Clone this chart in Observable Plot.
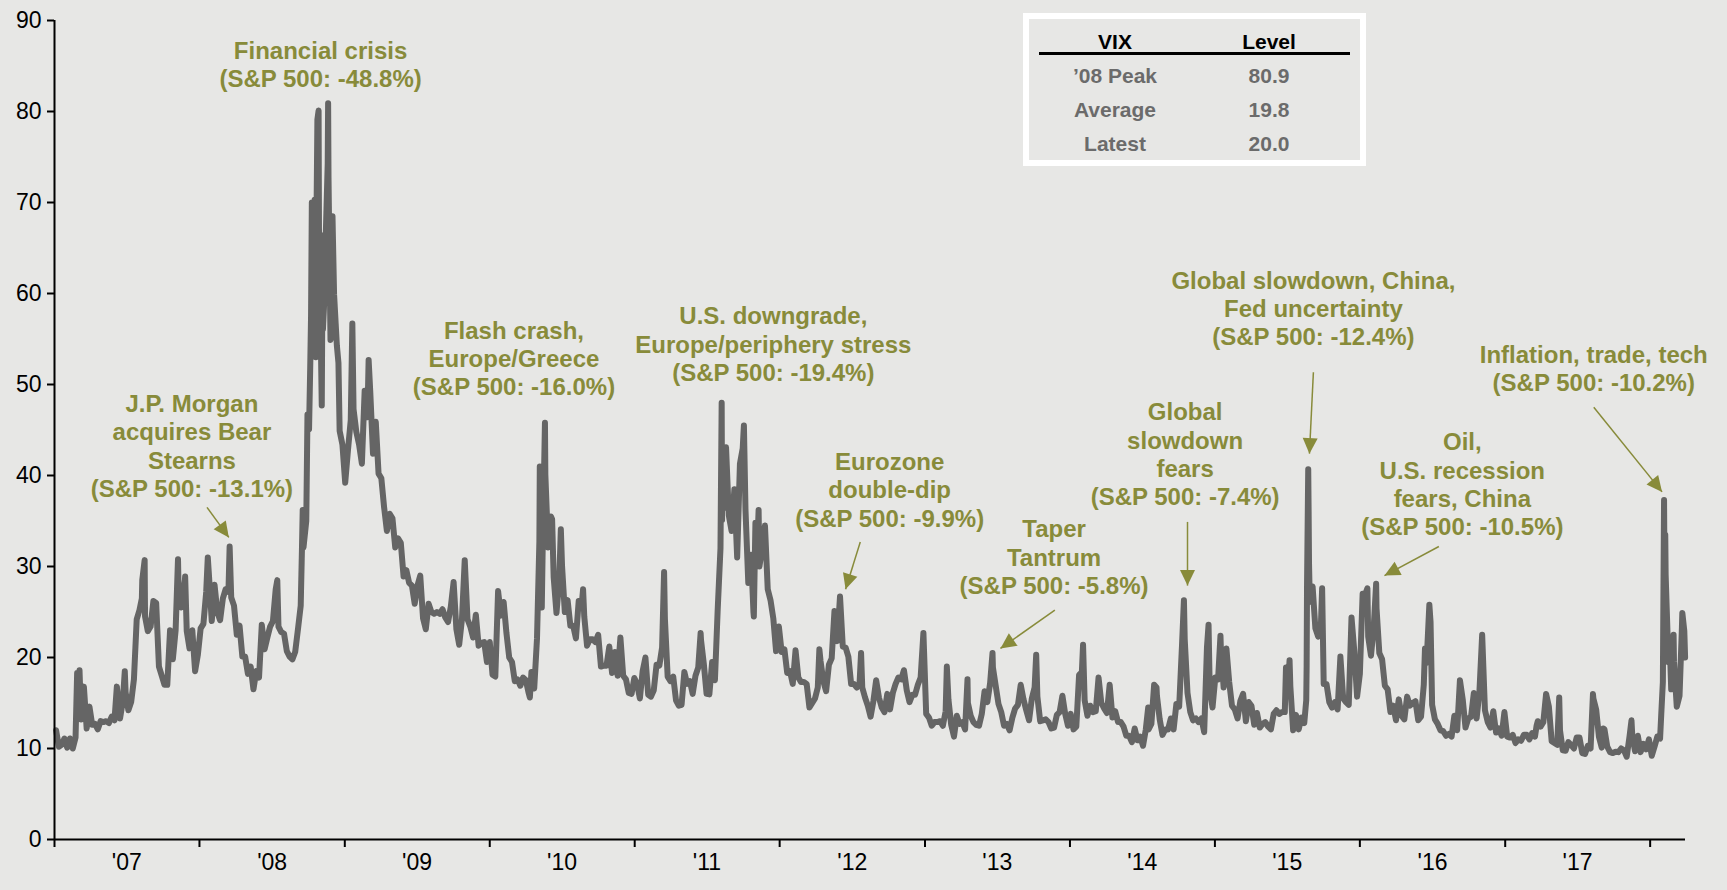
<!DOCTYPE html>
<html>
<head>
<meta charset="utf-8">
<script src="https://cdn.jsdelivr.net/npm/d3@7"></script>
<script src="https://cdn.jsdelivr.net/npm/@observablehq/plot@0.6"></script>
<style>
  html, body { margin: 0; padding: 0; background: #e7e7e5; }
  #wrap { position: relative; width: 1727px; height: 890px; overflow: hidden;
          font-family: "Liberation Sans", Arial, Helvetica, sans-serif; }
  #wrap svg { position: absolute; left: 0; top: 0; }
  #vixTable { position: absolute; left: 1023px; top: 13px; width: 343px; height: 153px;
              box-sizing: border-box; border: 6px solid #ffffff; background: #e7e7e5; }
  .cell { position: absolute; width: 150px; text-align: center; font-weight: bold;
          font-size: 21px; line-height: 24px; }
  .rule { position: absolute; left: 10px; width: 311px; top: 33px; height: 2.5px; background: #000; }
</style>
</head>
<body>
<div id="wrap"><div id="vixTable"></div></div>
<script>
// ---------------- DATA ----------------
// Weekly (Friday) VIX levels, one array per year
const vix2007 = [12.0, 10.2, 10.4, 11.1,  10.1, 11.1, 10.0, 11.2,  14.6, 13.2, 16.8, 12.2, 14.6,
  12.6, 12.7, 12.1, 13.0,  12.9, 13.0, 12.8, 13.5,  13.1, 16.4, 13.3, 15.2, 16.2,
  14.2, 15.1, 17.6, 24.2,  25.2, 28.5, 24.5, 22.9, 23.4,  26.2, 26.0, 19.0, 18.0,
  17.0, 17.0, 23.0, 19.8,  23.0, 28.5, 25.5, 26.8, 22.9,  21.0, 23.0, 18.5, 20.3];
const vix2008 = [23.2, 23.7, 27.2, 29.0,  24.0, 28.0, 25.0, 24.1, 26.5,  27.5, 27.2, 26.6, 25.7,
  22.5, 23.5, 20.1, 20.1,  18.2, 19.0, 16.5, 18.5, 17.8,  23.6, 20.9, 22.2, 23.4,
  24.0, 27.5, 23.4, 22.8,  22.6, 20.7, 20.1, 19.8, 20.6,  23.1, 25.7, 32.1, 35.0,
  45.1, 70.0, 70.3, 79.1, 59.9,  56.1, 66.3, 72.7, 55.3,  59.9, 54.3, 44.9, 43.4];
const vix2009 = [39.2, 42.8, 46.1, 47.3, 44.8,  43.4, 41.3, 49.3, 46.4,  49.3, 42.4, 45.9, 40.2,
  39.7, 36.5, 33.9, 35.8,  35.3, 32.1, 33.1, 32.6, 28.9,  29.6, 28.2, 27.9, 25.9,
  27.9, 29.0, 24.3, 23.1, 25.9,  25.0, 24.8, 25.0, 24.8,  25.3, 24.4, 23.9, 25.6,
  28.3, 23.1, 21.4, 24.2, 30.7,  24.2, 23.4, 22.2, 24.7,  21.3, 21.6, 21.7, 19.5];
const vix2010 = [21.7, 18.1, 17.9, 27.3, 24.6,  26.1, 22.7, 20.0, 19.5,  17.4, 17.6, 16.9, 17.8,
  17.5, 16.1, 18.4, 16.6, 22.1,  41.0, 31.2, 40.1, 32.1,  35.5, 28.8, 24.9, 28.5,
  30.1, 25.0, 26.3, 23.5, 23.5,  22.1, 26.2, 25.5, 24.5,  21.3, 22.0, 22.0, 21.7,
  22.5, 19.0, 19.1, 19.1, 21.2,  18.3, 20.6, 18.0, 22.2,  18.0, 17.6, 16.1, 16.0, 17.75];
const vix2011 = [17.1, 15.5, 18.5, 20.0,  15.9, 15.7, 16.4, 19.2,  19.1, 21.1, 24.3, 17.9,
  17.4, 17.9, 15.3, 14.7, 14.8,  18.4, 17.1, 17.4, 16.0,  18.0, 18.9, 21.9, 19.3,
  16.0, 15.95, 19.5, 17.5, 25.3,  32.0, 36.4, 43.1, 35.6,  33.9, 38.5, 31.0, 41.3, 43.0,
  36.2, 28.2, 31.3, 24.5,  30.2, 30.0, 32.0, 34.5,  27.5, 26.3, 24.3, 20.7, 23.4];
const vix2012 = [20.6, 20.9, 18.3, 18.5,  17.1, 20.8, 17.8, 17.3,  17.3, 17.1, 14.5, 15.0, 15.5,
  16.7, 19.6, 17.4, 16.3,  19.2, 19.9, 25.1, 21.8,  26.7, 21.2, 21.1, 20.1, 17.1,
  17.1, 16.7, 17.0, 16.7,  15.6, 14.7, 13.5, 15.2, 17.5,  15.6, 14.5, 14.0, 16.0,
  14.3, 16.1, 17.1, 17.8,  17.6, 18.6, 16.4, 15.1, 15.9,  15.9, 17.0, 17.8, 22.7];
const vix2013 = [13.8, 13.4, 12.5, 12.9,  12.9, 13.0, 12.5, 14.1,  15.4, 12.6, 11.3, 13.6, 12.7,
  12.9, 12.1, 15.0, 13.6,  12.9, 12.6, 12.5, 13.8, 16.3,  15.1, 17.2, 18.9, 16.9,
  14.9, 14.0, 12.5, 12.7,  12.0, 13.4, 14.4, 14.8, 17.0,  15.4, 14.2, 13.1, 15.5,
  16.7, 15.7, 13.0, 13.1,  13.2, 12.9, 12.2, 12.3, 13.7,  14.0, 15.8, 13.8, 12.5];
const vix2014 = [13.8, 12.1, 12.4, 18.1, 18.4,  15.3, 13.6, 14.7, 14.0,  14.1, 17.8, 15.0, 14.4,
  13.9, 17.0, 13.4, 14.1,  12.9, 12.9, 12.4, 11.4, 11.4,  10.7, 12.2, 10.9, 11.3,
  10.3, 12.1, 12.1, 12.7,  17.0, 15.8, 13.2, 11.5, 12.1,  12.1, 13.3, 12.1, 14.9,
  14.6, 21.2, 22.0, 16.1, 14.0,  13.1, 13.3, 12.9, 13.3,  11.8, 21.1, 16.5, 14.5];
const vix2015 = [17.8, 17.6, 21.0, 16.7, 21.0,  17.3, 14.7, 14.3, 13.3,  15.2, 16.0, 13.0, 15.1,
  14.7, 12.6, 13.9, 12.3,  12.7, 12.9, 12.4, 12.1, 13.8,  14.2, 13.8, 14.0, 14.0,
  16.1, 16.8, 12.0, 13.7, 12.1,  13.4, 12.8, 28.0, 26.1,  27.8, 23.2, 22.3, 23.6,
  17.1, 17.1, 15.1, 14.5, 15.1,  14.3, 20.1, 15.5, 15.1,  14.8, 24.4, 20.7, 15.7];
const vix2016 = [18.2, 27.0, 27.0, 22.3, 20.2,  23.4, 25.4, 20.5, 19.8,  16.9, 16.5, 14.0, 14.7,
  13.1, 15.4, 13.6, 13.2, 15.7,  14.7, 15.0, 15.2, 13.1,  13.5, 17.0, 19.4, 25.8,
  14.8, 13.2, 12.7, 12.0, 11.9,  11.4, 11.6, 11.3, 13.6,  12.0, 17.5, 15.4, 12.3, 13.3,
  13.5, 16.1, 13.3, 16.2,  22.5, 14.2, 12.9, 12.3,  14.1, 11.75, 12.2, 11.4, 14.0];
const vix2017 = [11.3, 11.2, 11.5, 10.6,  11.0, 10.85, 11.5, 11.5,  11.0, 11.7, 11.3, 13.0, 12.4,
  12.9, 16.0, 14.6, 10.8,  10.6, 10.4, 12.0, 9.8,  9.75, 10.7, 10.4, 10.0, 11.2,
  11.2, 9.5, 9.4, 10.3,  10.0, 15.5, 14.3, 11.3,  10.1, 12.1, 10.2, 9.6, 9.5,
  9.65, 9.6, 10.0, 9.8,  9.1, 11.3, 11.4, 9.7,  11.4, 9.6, 10.5, 9.9, 11.0];
const vix2018 = [9.2, 10.2, 11.3, 11.1, 17.3, 29.1, 19.5, 16.5, 19.6, 14.6, 15.8, 24.9, 20.0];

// Intra-week extremes
const extraDays = [
  ["2007-02-27", 18.3], ["2007-03-05", 18.6], ["2007-06-07", 16.8], ["2007-06-27", 18.5],
  ["2007-08-09", 26.5], ["2007-08-16", 30.7], ["2007-11-08", 30.8], ["2007-11-26", 28.9],
  ["2008-01-22", 31.0], ["2008-03-17", 32.2], ["2008-07-15", 28.5], ["2008-09-15", 31.7],
  ["2008-09-17", 36.2], ["2008-09-29", 46.7], ["2008-10-06", 52.1], ["2008-10-08", 57.5],
  ["2008-10-13", 55.0], ["2008-10-15", 69.3], ["2008-10-20", 53.0], ["2008-10-22", 69.7],
  ["2008-10-27", 80.1], ["2008-10-28", 67.0], ["2008-11-04", 47.7], ["2008-11-06", 63.7],
  ["2008-11-10", 58.9], ["2008-11-12", 66.5], ["2008-11-19", 74.3], ["2008-11-20", 80.9],
  ["2008-11-26", 54.9], ["2008-12-01", 68.5], ["2008-12-16", 52.4],
  ["2009-01-20", 56.7], ["2009-03-02", 52.7],
  ["2010-04-12", 15.6], ["2010-05-06", 32.8], ["2010-05-12", 25.5], ["2010-05-20", 45.8],
  ["2010-06-07", 35.2], ["2010-06-29", 34.1], ["2010-08-24", 27.5],
  ["2011-03-16", 29.4], ["2011-06-16", 22.7], ["2011-08-08", 48.0], ["2011-08-09", 35.1],
  ["2011-08-10", 43.0], ["2011-08-18", 42.7], ["2011-10-03", 45.5], ["2011-10-27", 25.0],
  ["2011-11-01", 34.8], ["2011-11-09", 36.2],
  ["2012-04-10", 20.9], ["2012-07-24", 20.5],
  ["2013-02-25", 19.0], ["2013-04-18", 17.6], ["2013-06-20", 20.5], ["2013-10-08", 20.3],
  ["2014-02-03", 21.4], ["2014-07-17", 14.5], ["2014-08-07", 16.7], ["2014-10-15", 26.3],
  ["2014-12-16", 23.6],
  ["2015-01-15", 22.4], ["2015-06-29", 18.9], ["2015-07-08", 19.7], ["2015-08-19", 15.3],
  ["2015-08-20", 19.1], ["2015-08-24", 40.7], ["2015-08-25", 36.0], ["2015-08-26", 30.3],
  ["2015-09-28", 27.6],
  ["2016-01-20", 27.6], ["2016-02-11", 28.1], ["2016-06-13", 21.0], ["2016-06-27", 23.9],
  ["2017-03-21", 12.5], ["2017-05-17", 15.6], ["2017-08-10", 16.0], ["2017-09-05", 12.2],
  ["2017-11-15", 13.1],
  ["2018-01-29", 13.8], ["2018-02-05", 37.3], ["2018-02-06", 30.0], ["2018-02-08", 33.5],
  ["2018-02-20", 20.6], ["2018-03-01", 22.5], ["2018-03-22", 23.3], ["2018-03-28", 22.9]
];

const yTicks = [0, 10, 20, 30, 40, 50, 60, 70, 80, 90];
const yearLabels = ["'07", "'08", "'09", "'10", "'11", "'12", "'13", "'14", "'15", "'16", "'17"];

const tableHeaders = ["VIX", "Level"];
const tableLabels = ["\u201908 Peak", "Average", "Latest"];
const tableValues = ["80.9", "19.8", "20.0"];

const notes = [
  {date: "2008-11-01", level: 85.2, text: "Financial crisis\n(S&P 500: -48.8%)"},
  {date: "2007-12-13", level: 43.3, text: "J.P. Morgan\nacquires Bear\nStearns\n(S&P 500: -13.1%)"},
  {date: "2010-03-03", level: 52.9, text: "Flash crash,\nEurope/Greece\n(S&P 500: -16.0%)"},
  {date: "2011-12-16", level: 54.5, text: "U.S. downgrade,\nEurope/periphery stress\n(S&P 500: -19.4%)"},
  {date: "2012-10-04", level: 38.5, text: "Eurozone\ndouble-dip\n(S&P 500: -9.9%)"},
  {date: "2013-11-22", level: 31.1, text: "Taper\nTantrum\n(S&P 500: -5.8%)"},
  {date: "2014-10-18", level: 42.4, text: "Global\nslowdown\nfears\n(S&P 500: -7.4%)"},
  {date: "2015-09-06", level: 58.4, text: "Global slowdown, China,\nFed uncertainty\n(S&P 500: -12.4%)"},
  {date: "2016-09-15", level: 39.1, text: "Oil,\nU.S. recession\nfears, China\n(S&P 500: -10.5%)"},
  {date: "2017-08-12", level: 51.8, text: "Inflation, trade, tech\n(S&P 500: -10.2%)"}
];

const arrows = [
  {from: "2008-01-20", fromLevel: 36.5, to: "2008-03-15", toLevel: 33.2},
  {from: "2012-07-22", fromLevel: 32.7, to: "2012-06-15", toLevel: 27.5},
  {from: "2013-11-24", fromLevel: 25.2, to: "2013-07-10", toLevel: 21.0},
  {from: "2014-10-24", fromLevel: 34.9, to: "2014-10-24", toLevel: 27.9},
  {from: "2015-09-06", fromLevel: 51.35, to: "2015-08-27", toLevel: 42.4},
  {from: "2016-07-18", fromLevel: 32.2, to: "2016-03-03", toLevel: 29.0},
  {from: "2017-08-12", fromLevel: 47.5, to: "2018-01-31", toLevel: 38.2}
];

// ---------------- BUILD ----------------
const OLIVE = "#888b3a";
const parse = d3.utcParse("%Y-%m-%d");
const weeklyByYear = [[2007, vix2007], [2008, vix2008], [2009, vix2009], [2010, vix2010],
  [2011, vix2011], [2012, vix2012], [2013, vix2013], [2014, vix2014], [2015, vix2015],
  [2016, vix2016], [2017, vix2017], [2018, vix2018]];

const points = [];
for (const [yr, vals] of weeklyByYear) {
  const fridays = d3.utcFriday.range(new Date(Date.UTC(yr, 0, 1)), new Date(Date.UTC(yr + 1, 0, 1)));
  vals.forEach((v, i) => { if (fridays[i]) points.push({date: fridays[i], value: v}); });
}
for (const [d, v] of extraDays) points.push({date: parse(d), value: v});
points.sort((a, b) => a.date - b.date);

const xStart = new Date(Date.UTC(2007, 0, 1));
const xEnd = new Date(Date.UTC(2018, 2, 31));
const yearStarts = d3.utcYear.range(xStart, new Date(Date.UTC(2018, 0, 2)));
const midYears = yearLabels.map((_, i) => new Date(Date.UTC(2007 + i, 6, 2)));

const arrowMark = Plot.link(arrows, {
  x1: d => parse(d.from), y1: "fromLevel", x2: d => parse(d.to), y2: "toLevel",
  stroke: OLIVE, strokeWidth: 1.5,
  render(index, scales, values, dimensions, context, next) {
    const g = next(index, scales, values, dimensions, context);
    const ns = "http://www.w3.org/2000/svg";
    for (const i of index) {
      const ax = values.x1[i], ay = values.y1[i], bx = values.x2[i], by = values.y2[i];
      const dx = bx - ax, dy = by - ay, L = Math.hypot(dx, dy) || 1;
      const ux = dx / L, uy = dy / L, hl = 15.5, hw = 7.5;
      const cx = bx - ux * hl, cy = by - uy * hl;
      const p = document.createElementNS(ns, "polygon");
      p.setAttribute("points", `${bx},${by} ${cx - uy * hw},${cy + ux * hw} ${cx + uy * hw},${cy - ux * hw}`);
      p.setAttribute("fill", OLIVE);
      p.setAttribute("stroke", "none");
      g.appendChild(p);
    }
    return g;
  }
});

const chart = Plot.plot({
  width: 1727,
  height: 890,
  marginLeft: 54,
  marginRight: 42,
  marginTop: 20,
  marginBottom: 51,
  style: {background: "transparent", fontFamily: "'Liberation Sans', Arial, Helvetica, sans-serif", color: "#000", overflow: "visible"},
  x: {type: "utc", domain: [xStart, xEnd]},
  y: {domain: [0, 90]},
  marks: [
    Plot.line(points, {x: "date", y: "value", stroke: "#656565", strokeWidth: 6,
      strokeLinejoin: "round", strokeLinecap: "round"}),
    Plot.ruleY([0], {stroke: "#000", strokeWidth: 2}),
    Plot.ruleX([xStart], {y1: 0, y2: 90, stroke: "#000", strokeWidth: 2}),
    Plot.axisY({ticks: yTicks, tickSize: 7, tickPadding: 6, fontSize: 23, strokeWidth: 2,
      label: null, tickFormat: d => String(d)}),
    Plot.axisX({ticks: yearStarts, tickSize: 8, strokeWidth: 2, tickFormat: () => "", label: null}),
    Plot.axisX({ticks: midYears, tickSize: 0, tickPadding: 14, fontSize: 23, label: null,
      tickFormat: d => yearLabels[d.getUTCFullYear() - 2007]}),
    arrowMark,
    Plot.text(notes, {x: d => parse(d.date), y: "level", text: "text", fill: OLIVE,
      fontSize: 24, fontWeight: "bold", lineHeight: 1.18, lineAnchor: "middle", textAnchor: "middle"})
  ]
});

const wrap = document.getElementById("wrap");
wrap.insertBefore(chart, wrap.firstChild);

// ---------------- TABLE ----------------
const tbl = document.getElementById("vixTable");
const colCenters = [86, 240];
const rowCenters = [23, 57, 91, 125];
function cell(text, cx, cy, color) {
  const d = document.createElement("div");
  d.className = "cell";
  d.textContent = text;
  d.style.left = (cx - 75) + "px";
  d.style.top = (cy - 12) + "px";
  d.style.color = color;
  tbl.appendChild(d);
}
tableHeaders.forEach((h, j) => cell(h, colCenters[j], rowCenters[0], "#000"));
const rule = document.createElement("div");
rule.className = "rule";
tbl.appendChild(rule);
tableLabels.forEach((t, i) => {
  cell(t, colCenters[0], rowCenters[i + 1], "#6b6b6b");
  cell(tableValues[i], colCenters[1], rowCenters[i + 1], "#6b6b6b");
});
</script>
</body>
</html>
